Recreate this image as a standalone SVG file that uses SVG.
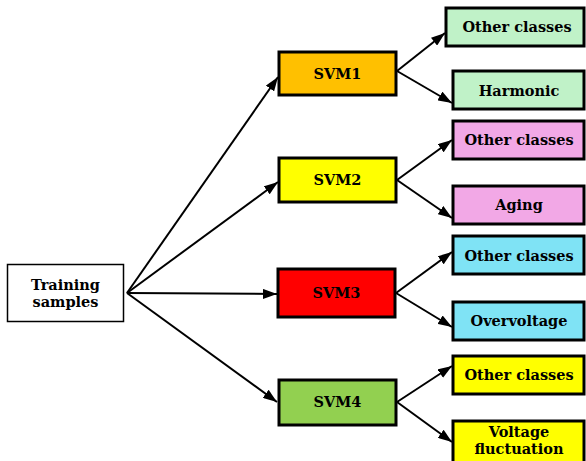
<svg xmlns="http://www.w3.org/2000/svg" width="586" height="461" viewBox="0 0 586 461">
<defs>
<marker id="ah" markerWidth="14" markerHeight="10" refX="14" refY="5" orient="auto" markerUnits="userSpaceOnUse">
<path d="M0,0 L14,5 L0,10 Z" fill="#000"/>
</marker>
<style>
.b{stroke:#000;stroke-width:3}
.t{font-family:'DejaVu Serif',serif;font-weight:bold;font-size:14.5px;text-anchor:middle;fill:#000}
.c{stroke:#000;stroke-width:2;fill:none;marker-end:url(#ah)}
</style>
</defs>
<rect width="586" height="461" fill="#fff"/>
<g id="connectors">
<line class="c" x1="127" y1="293" x2="278" y2="77"/>
<line class="c" x1="127" y1="293" x2="278" y2="182"/>
<line class="c" x1="127" y1="293" x2="277" y2="294"/>
<line class="c" x1="127" y1="293" x2="277" y2="402"/>
<line class="c" x1="397" y1="71" x2="445" y2="33"/>
<line class="c" x1="397" y1="71" x2="452" y2="103"/>
<line class="c" x1="397" y1="180" x2="452" y2="140"/>
<line class="c" x1="397" y1="180" x2="452" y2="218"/>
<line class="c" x1="396" y1="293" x2="452" y2="252"/>
<line class="c" x1="396" y1="293" x2="452" y2="327"/>
<line class="c" x1="397" y1="402" x2="452" y2="366"/>
<line class="c" x1="397" y1="402" x2="452" y2="442"/>
</g>
<g id="training">
<rect x="7.5" y="264.5" width="116" height="57" fill="#fff" stroke="#000" stroke-width="1.5"/>
<text class="t" x="65.5" y="290">Training</text>
<text class="t" x="65.5" y="307">samples</text>
</g>
<g id="svm1">
<rect class="b" x="279" y="52" width="117" height="43" fill="#FFC000"/>
<text class="t" x="337.5" y="79">SVM1</text>
</g>
<g id="svm2">
<rect class="b" x="279" y="158" width="117" height="44" fill="#FFFF00"/>
<text class="t" x="337.5" y="185">SVM2</text>
</g>
<g id="svm3">
<rect class="b" x="278" y="269" width="117" height="48" fill="#FF0000"/>
<text class="t" x="336.5" y="298">SVM3</text>
</g>
<g id="svm4">
<rect class="b" x="279" y="380" width="117" height="45" fill="#92D050"/>
<text class="t" x="337.5" y="407">SVM4</text>
</g>
<g id="other1">
<rect class="b" x="446" y="8" width="138" height="38" fill="#C0F2C8"/>
<text class="t" x="517" y="32">Other classes</text>
</g>
<g id="harmonic">
<rect class="b" x="453" y="71" width="131" height="38" fill="#C0F2C8"/>
<text class="t" x="519" y="96">Harmonic</text>
</g>
<g id="other2">
<rect class="b" x="453" y="121" width="131" height="38" fill="#F2A8E6"/>
<text class="t" x="519" y="145">Other classes</text>
</g>
<g id="aging">
<rect class="b" x="453" y="186" width="131" height="38" fill="#F2A8E6"/>
<text class="t" x="519" y="210">Aging</text>
</g>
<g id="other3">
<rect class="b" x="453" y="236" width="131" height="38" fill="#7FE3F5"/>
<text class="t" x="519" y="261">Other classes</text>
</g>
<g id="overvoltage">
<rect class="b" x="453" y="302" width="131" height="38" fill="#7FE3F5"/>
<text class="t" x="519" y="326">Overvoltage</text>
</g>
<g id="other4">
<rect class="b" x="453" y="356" width="131" height="38" fill="#FFFF00"/>
<text class="t" x="519" y="380">Other classes</text>
</g>
<g id="voltagefluct">
<rect class="b" x="453" y="421" width="131" height="42" fill="#FFFF00"/>
<text class="t" x="519" y="437">Voltage</text>
<text class="t" x="519" y="454">fluctuation</text>
</g>
</svg>
